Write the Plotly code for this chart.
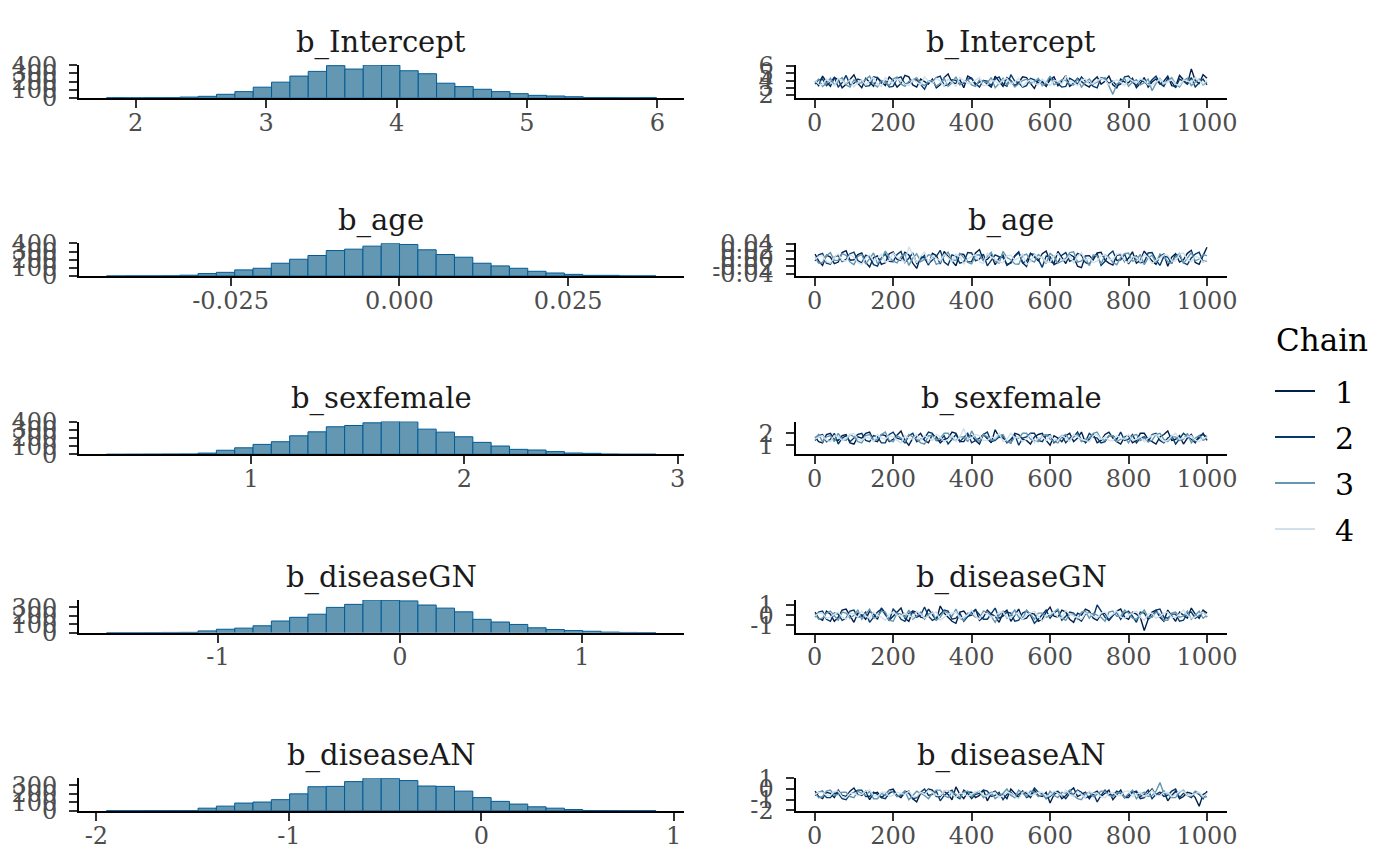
import plotly.graph_objects as go

W, H = 1400, 866

params = ["b_Intercept", "b_age", "b_sexfemale", "b_diseaseGN", "b_diseaseAN"]

# ---------------- histogram data (30 bins each) ----------------
hist_first_edge = [1.776, -0.04338, 0.3218, -1.613, -1.948]
hist_bin_width = [0.1406, 0.002713, 0.08588, 0.10067, 0.0952]

counts_intercept = [1, 0, 1, 2, 8, 17, 42, 75, 130, 192,
                    267, 325, 396, 354, 404, 400, 333, 296, 179, 137,
                    104, 75, 50, 29, 21, 12, 2, 1, 0, 1]
counts_age = [0, 1, 1, 2, 10, 30, 45, 75, 95, 157,
              206, 252, 313, 330, 367, 402, 388, 322, 264, 231,
              157, 124, 95, 58, 37, 20, 8, 8, 1, 1]
counts_sexfemale = [0, 1, 2, 3, 4, 15, 50, 80, 122, 155,
                    228, 277, 339, 355, 388, 403, 401, 310, 273, 216,
                    147, 102, 61, 53, 33, 16, 12, 3, 1, 1]
counts_diseaseGN = [0, 0, 1, 2, 3, 20, 40, 53, 81, 138,
                    182, 219, 300, 336, 389, 385, 377, 328, 291, 247,
                    158, 126, 97, 57, 36, 24, 16, 6, 2, 1]
counts_diseaseAN = [2, 2, 3, 3, 3, 32, 56, 92, 104, 132,
                    200, 284, 288, 344, 384, 380, 356, 292, 288, 232,
                    156, 112, 80, 48, 32, 16, 4, 3, 2, 2]
hist_counts = [counts_intercept, counts_age, counts_sexfemale,
               counts_diseaseGN, counts_diseaseAN]

# ---------------- trace data (thinned draws, every 10th iteration, 4 chains) ----------------
iterations = [1] + list(range(10, 1001, 10))

trace_intercept = [
    [3.9, 3.3, 4.6, 3.8, 3.2, 4.4, 4.1, 3.0, 3.5, 4.2,
     4.8, 3.6, 3.0, 4.3, 3.7, 3.2, 4.4, 3.8, 3.3, 4.5,
     4.0, 3.1, 3.6, 4.7, 4.5, 3.4, 3.1, 4.2, 3.9, 3.5,
     4.2, 3.0, 3.4, 4.4, 4.9, 3.7, 3.6, 4.1, 3.0, 4.6,
     4.3, 3.4, 3.8, 4.0, 3.5, 3.1, 4.6, 3.9, 3.2, 4.4,
     4.0, 3.3, 3.7, 4.5, 4.4, 3.6, 2.9, 4.1, 3.9, 3.2,
     4.1, 4.5, 3.3, 3.9, 4.7, 3.2, 3.6, 4.3, 3.8, 3.4,
     3.1, 4.0, 4.5, 3.5, 3.9, 4.6, 3.4, 3.0, 4.2, 3.8,
     3.7, 4.3, 3.0, 3.6, 4.4, 3.1, 3.8, 4.2, 3.5, 3.9,
     4.6, 3.3, 3.2, 4.7, 4.1, 3.5, 5.6, 4.0, 3.6, 4.8,
     4.3],
    [3.5, 4.1, 4.2, 3.3, 3.8, 4.4, 3.1, 3.7, 4.7, 3.4,
     3.6, 4.2, 4.0, 3.2, 3.3, 4.5, 4.4, 3.6, 3.9, 3.1,
     3.2, 4.3, 4.5, 3.5, 3.7, 4.0, 4.1, 3.4, 2.8, 3.9,
     3.8, 4.4, 4.6, 3.3, 3.4, 4.1, 4.0, 3.5, 3.6, 4.2,
     4.3, 3.6, 3.1, 4.0, 3.9, 3.3, 4.2, 4.5, 3.5, 3.2,
     4.8, 3.9, 3.7, 3.1, 3.3, 4.3, 4.1, 3.7, 3.8, 3.2,
     4.4, 4.0, 3.6, 3.1, 3.2, 4.3, 4.0, 3.5, 4.5, 3.9,
     3.7, 3.2, 3.0, 4.4, 4.2, 3.6, 3.9, 3.3, 3.5, 4.5,
     4.6, 3.8, 3.3, 4.1, 3.8, 3.4, 4.1, 4.6, 3.6, 3.2,
     4.3, 3.8, 3.0, 4.2, 3.9, 3.5, 4.4, 3.1, 3.7, 4.2,
     3.4],
    [3.7, 4.2, 3.2, 3.6, 4.3, 3.4, 3.9, 4.4, 3.4, 3.1,
     4.1, 3.6, 3.7, 4.2, 4.6, 3.5, 3.1, 4.0, 3.8, 3.3,
     4.2, 4.5, 3.5, 3.2, 3.9, 4.1, 4.4, 3.6, 3.3, 3.9,
     4.0, 3.2, 3.6, 4.3, 3.2, 3.7, 4.5, 3.4, 3.8, 4.1,
     3.4, 3.2, 4.1, 3.9, 3.7, 4.4, 3.0, 3.6, 4.3, 3.4,
     3.9, 3.1, 3.5, 4.0, 4.2, 3.6, 3.8, 4.3, 3.3, 3.7,
     4.6, 3.4, 3.7, 4.1, 4.0, 3.5, 3.4, 4.2, 3.1, 3.8,
     4.2, 3.5, 3.8, 4.2, 4.4, 3.3, 2.1, 3.5, 3.9, 4.3,
     3.2, 3.8, 4.1, 3.4, 3.7, 4.2, 2.6, 3.6, 4.3, 3.5,
     3.9, 4.4, 3.5, 3.1, 4.0, 4.3, 3.3, 3.7, 4.2, 3.4,
     3.8],
    [4.0, 3.5, 3.4, 4.2, 3.8, 3.3, 4.3, 3.9, 3.6, 4.1,
     3.1, 3.7, 4.1, 3.4, 3.9, 4.4, 3.5, 3.2, 4.4, 3.8,
     3.7, 4.2, 4.0, 3.5, 3.3, 4.1, 3.8, 3.4, 4.5, 3.9,
     3.6, 4.3, 3.9, 3.3, 4.2, 3.7, 3.2, 4.4, 4.0, 3.6,
     3.7, 4.1, 4.4, 3.3, 3.4, 4.0, 3.9, 3.5, 4.1, 4.3,
     3.5, 3.8, 4.3, 3.2, 3.8, 4.1, 3.6, 3.4, 4.2, 3.8,
     3.3, 4.0, 3.9, 3.5, 4.6, 3.9, 3.7, 3.3, 4.1, 4.2,
     3.5, 3.6, 3.9, 4.3, 4.0, 3.4, 3.8, 4.1, 3.8, 3.3,
     4.3, 3.9, 3.6, 4.2, 4.0, 3.4, 3.4, 3.8, 4.2, 3.6,
     3.8, 4.1, 3.5, 3.3, 4.1, 3.9, 3.7, 4.4, 3.9, 3.5,
     4.0],
]

trace_age = [
    [0.012, -0.006, -0.018, 0.009, 0.004, -0.013, -0.009, 0.016, 0.021, -0.004,
     -0.003, 0.011, 0.015, -0.010, -0.022, 0.003, 0.007, -0.015, -0.011, 0.013,
     0.018, -0.002, -0.005, 0.017, 0.010, -0.012, -0.026, 0.005, 0.002, -0.017,
     0.014, 0.008, -0.014, 0.019, 0.006, -0.007, -0.019, 0.012, 0.011, -0.009,
     -0.008, 0.015, 0.024, -0.004, -0.002, 0.010, -0.016, 0.001, 0.009, -0.018,
     -0.010, 0.006, 0.016, -0.011, -0.021, 0.014, 0.003, -0.006, 0.013, 0.020,
     -0.007, -0.013, 0.019, 0.004, -0.013, 0.011, 0.005, -0.020, -0.024, 0.007,
     0.008, -0.003, 0.015, 0.017, -0.004, -0.012, -0.017, 0.009, 0.011, -0.008,
     0.001, 0.018, -0.012, -0.005, 0.020, 0.006, -0.006, -0.015, 0.007, 0.012,
     -0.020, 0.004, 0.013, -0.009, -0.003, 0.014, 0.022, -0.010, -0.015, 0.008,
     0.030],
    [-0.006, 0.010, 0.014, -0.012, -0.015, 0.005, 0.008, -0.008, -0.002, 0.013,
     0.017, -0.005, -0.011, 0.009, 0.004, -0.016, -0.020, 0.002, 0.012, -0.007,
     -0.008, 0.011, 0.019, -0.010, 0.001, 0.015, -0.013, -0.003, 0.009, -0.014,
     -0.004, 0.006, 0.022, -0.009, -0.017, 0.010, 0.006, -0.012, -0.009, 0.016,
     0.015, -0.006, -0.001, 0.012, -0.019, -0.004, 0.010, 0.005, 0.003, -0.015,
     -0.012, 0.008, 0.018, -0.011, -0.006, 0.013, 0.011, -0.002, -0.023, 0.007,
     0.005, -0.016, -0.010, 0.009, 0.016, -0.007, -0.002, 0.014, 0.009, -0.010,
     -0.015, 0.004, 0.013, -0.018, -0.007, 0.011, 0.020, -0.005, -0.003, 0.012,
     -0.014, 0.002, 0.007, -0.011, -0.009, 0.015, 0.016, -0.004, -0.018, 0.006,
     0.004, -0.013, 0.011, 0.008, -0.011, -0.016, 0.002, 0.012, 0.017, -0.008,
     -0.005],
    [0.003, -0.012, -0.010, 0.008, 0.016, -0.005, -0.004, 0.013, 0.009, -0.009,
     -0.016, 0.006, 0.011, -0.014, 0.000, 0.015, -0.013, -0.002, 0.020, 0.004,
     -0.007, -0.011, 0.005, 0.012, -0.018, 0.001, 0.013, -0.008, -0.002, 0.010,
     0.008, -0.015, -0.011, 0.007, 0.017, -0.003, -0.005, 0.014, 0.002, -0.010,
     -0.014, 0.009, 0.010, -0.006, 0.006, 0.017, -0.008, -0.012, 0.019, 0.003,
     -0.003, -0.014, -0.015, 0.008, 0.012, -0.004, -0.009, 0.011, 0.004, -0.013,
     0.014, 0.005, -0.012, -0.007, 0.001, 0.016, 0.018, -0.009, -0.006, 0.003,
     -0.019, 0.010, 0.007, -0.014, 0.010, 0.004, -0.010, -0.016, 0.003, 0.013,
     0.015, -0.007, -0.004, 0.011, -0.016, 0.002, 0.009, -0.011, 0.012, 0.006,
     -0.008, -0.012, 0.005, 0.014, -0.013, 0.000, 0.016, -0.006, -0.001, 0.010,
     0.008],
    [-0.002, 0.006, 0.008, -0.008, -0.012, 0.004, 0.013, -0.005, -0.006, 0.010,
     0.004, -0.011, -0.015, 0.002, 0.010, -0.007, 0.002, 0.012, -0.009, -0.004,
     0.015, 0.003, -0.003, -0.010, 0.031, 0.009, -0.011, 0.006, 0.018, -0.012,
     0.007, 0.001, -0.006, 0.011, 0.003, -0.008, 0.012, 0.005, -0.014, -0.001,
     0.006, 0.010, -0.008, -0.013, 0.014, 0.004, -0.001, -0.009, -0.011, 0.008,
     0.009, -0.004, 0.001, 0.012, -0.016, -0.007, 0.011, 0.002, 0.005, -0.010,
     -0.009, 0.007, 0.013, -0.003, -0.004, 0.009, -0.012, 0.006, 0.016, -0.005,
     0.002, -0.011, -0.007, 0.008, 0.010, -0.002, -0.002, 0.011, 0.014, -0.006,
     -0.010, 0.005, 0.004, -0.008, 0.012, 0.003, -0.013, -0.004, 0.001, 0.010,
     0.009, -0.007, -0.006, 0.012, 0.015, -0.003, -0.008, 0.006, 0.003, -0.009,
     -0.004],
]

trace_sexfemale = [
    [1.7, 1.3, 1.2, 1.9, 2.0, 1.5, 1.4, 1.8, 1.9, 1.2,
     1.1, 1.7, 1.6, 2.0, 2.1, 1.4, 1.3, 1.9, 1.8, 1.3,
     1.5, 1.9, 2.2, 1.4, 1.0, 1.6, 1.7, 2.0, 1.4, 1.2,
     1.9, 1.7, 1.2, 1.5, 1.6, 2.1, 2.0, 1.3, 1.3, 1.8,
     1.8, 1.4, 1.1, 1.9, 1.5, 1.2, 2.3, 1.7, 1.6, 1.3,
     1.2, 2.0, 1.9, 1.5, 1.4, 1.1, 1.7, 1.9, 2.0, 1.4,
     1.0, 1.8, 1.6, 1.3, 1.8, 2.0, 1.3, 1.6, 2.1, 1.2,
     1.5, 1.9, 1.2, 1.4, 1.9, 2.1, 1.6, 1.3, 1.1, 1.7,
     1.8, 1.2, 1.4, 2.0, 2.0, 1.5, 1.3, 1.1, 1.7, 1.9,
     2.2, 1.4, 1.5, 1.8, 1.1, 1.6, 1.9, 1.3, 1.6, 2.0,
     1.4],
    [1.4, 1.8, 1.9, 1.3, 1.5, 2.0, 1.1, 1.6, 1.8, 1.3,
     1.6, 1.9, 2.0, 1.4, 1.3, 1.8, 1.7, 1.2, 1.2, 1.9,
     2.1, 1.6, 1.5, 1.2, 1.8, 2.0, 1.3, 1.5, 1.6, 2.1,
     2.0, 1.4, 1.4, 1.8, 1.1, 1.5, 1.9, 1.3, 1.7, 2.0,
     1.2, 1.4, 1.6, 1.9, 2.1, 1.3, 1.4, 1.7, 1.8, 1.2,
     1.5, 1.9, 1.0, 1.6, 1.7, 2.0, 2.0, 1.4, 1.3, 1.8,
     1.9, 1.2, 1.5, 1.8, 1.2, 1.6, 1.7, 2.1, 1.4, 1.3,
     2.0, 1.7, 1.6, 1.2, 1.3, 1.8, 1.8, 1.5, 2.1, 1.4,
     1.5, 1.9, 1.2, 1.6, 1.7, 1.3, 1.9, 2.0, 1.4, 1.2,
     1.6, 1.8, 1.1, 1.5, 2.0, 1.7, 1.5, 1.2, 1.8, 1.9,
     1.7],
    [1.6, 1.9, 1.3, 1.7, 1.8, 1.3, 2.0, 1.5, 1.4, 1.9,
     1.7, 1.3, 1.2, 1.8, 1.9, 1.4, 1.5, 1.9, 2.1, 1.4,
     1.3, 1.8, 1.6, 1.3, 1.9, 1.7, 1.5, 1.2, 1.1, 1.8,
     1.8, 1.4, 1.6, 2.0, 2.0, 1.5, 1.4, 1.7, 1.7, 1.3,
     2.2, 1.6, 1.3, 1.9, 1.7, 1.4, 1.5, 1.8, 1.9, 1.3,
     1.2, 1.7, 1.6, 2.0, 2.0, 1.5, 1.4, 1.3, 1.8, 1.9,
     1.5, 1.3, 1.2, 1.7, 1.9, 1.4, 1.7, 1.9, 1.3, 1.5,
     1.6, 2.0, 2.1, 1.5, 1.4, 1.8, 1.8, 1.3, 1.5, 1.7,
     1.2, 1.8, 1.9, 1.4, 1.6, 1.3, 1.4, 1.9, 2.0, 1.5,
     1.3, 1.7, 1.7, 1.4, 1.5, 2.0, 1.2, 1.6, 1.8, 1.4,
     1.6],
    [1.5, 1.7, 1.8, 1.4, 1.3, 1.8, 1.7, 1.4, 1.6, 1.9,
     2.0, 1.5, 1.4, 1.7, 1.6, 1.3, 1.9, 1.6, 1.5, 1.8,
     1.7, 1.4, 1.2, 1.8, 1.6, 1.5, 1.9, 1.4, 1.8, 1.6,
     1.4, 1.9, 1.7, 1.3, 1.5, 1.8, 1.3, 1.7, 2.4, 1.5,
     1.6, 1.9, 1.8, 1.4, 1.4, 1.7, 1.6, 2.0, 1.3, 1.5,
     2.0, 1.6, 1.7, 1.3, 1.5, 1.9, 1.2, 1.6, 1.7, 1.4,
     1.8, 1.5, 1.4, 1.8, 1.6, 1.3, 1.9, 1.7, 1.5, 1.4,
     1.3, 1.8, 1.9, 1.5, 1.7, 1.4, 1.4, 1.8, 1.6, 1.5,
     1.9, 1.4, 1.5, 1.7, 1.3, 1.6, 1.8, 1.9, 1.6, 1.3,
     1.4, 1.8, 2.0, 1.5, 1.6, 1.7, 1.8, 1.4, 1.3, 1.6,
     1.7],
]

trace_diseaseGN = [
    [0.3, -0.3, -0.5, 0.4, 0.1, -0.6, -0.2, 0.5, 0.6, -0.1,
     -0.7, 0.2, 0.0, -0.4, 0.4, 0.1, -0.4, 0.7, 0.2, -0.5,
     -0.1, 0.3, 0.7, -0.3, -0.6, 0.4, 0.3, -0.2, -0.3, 0.6,
     0.1, -0.5, 0.9, 0.2, -0.2, -0.6, -0.8, 0.3, 0.4, -0.1,
     0.0, 0.6, -0.5, -0.2, 0.5, 0.1, -0.1, -0.7, 0.2, 0.5,
     -0.6, 0.0, 0.6, -0.4, -0.3, 0.2, 0.1, -0.6, -0.4, 0.3,
     0.8, -0.1, -0.2, 0.5, 0.3, -0.4, -0.7, 0.2, 0.0, 0.6,
     0.4, -0.3, -0.5, 0.1, 0.2, -0.5, -0.1, 0.4, 0.6, -0.2,
     -0.4, 0.3, 0.1, -0.2, -1.5, -0.4, 0.3, 0.5, -0.2, -0.6,
     0.5, 0.0, -0.6, 0.3, 0.0, -0.3, 0.7, 0.1, -0.3, 0.5,
     0.2],
    [-0.2, 0.3, 0.4, -0.4, -0.6, 0.2, 0.1, -0.5, -0.3, 0.4,
     0.5, -0.2, -0.1, 0.3, -0.7, -0.2, 0.3, 0.6, 0.0, -0.5,
     0.6, 0.2, -0.4, -0.6, 0.2, 0.4, -0.2, 0.0, 0.8, -0.1,
     -0.5, -0.3, 0.1, 0.5, 0.4, -0.4, -0.3, 0.2, -0.6, -0.1,
     0.3, 0.5, 0.0, -0.4, -0.4, 0.1, 0.7, -0.3, -0.1, 0.3,
     0.2, -0.6, -0.5, 0.2, 0.4, 0.0, -0.8, -0.4, 0.1, 0.5,
     -0.3, 0.2, 0.5, -0.5, -0.1, 0.3, 0.2, -0.3, -0.6, 0.1,
     0.3, -0.2, 1.0, 0.4, -0.2, -0.5, 0.0, 0.3, -0.4, 0.2,
     0.4, -0.1, -0.7, 0.3, 0.2, -0.4, -0.1, 0.5, 0.6, -0.2,
     -0.3, 0.1, 0.1, -0.6, -0.5, 0.2, 0.3, -0.3, 0.0, 0.4,
     -0.2],
    [0.1, -0.4, -0.3, 0.2, 0.4, -0.1, -0.5, 0.3, 0.2, -0.3,
     0.0, 0.5, -0.4, 0.1, 0.6, -0.3, -0.2, 0.4, 0.3, -0.5,
     -0.6, 0.2, 0.1, -0.2, 0.5, -0.4, -0.1, 0.3, -0.4, 0.1,
     0.3, -0.5, -0.2, 0.4, 0.2, -0.1, 0.6, -0.3, -0.5, 0.2,
     0.1, -0.2, -0.3, 0.4, 0.3, -0.1, -0.7, 0.0, 0.4, -0.3,
     0.0, 0.5, -0.2, -0.4, 0.5, 0.1, -0.4, 0.2, 0.2, -0.2,
     -0.1, 0.3, 0.6, -0.3, -0.5, 0.1, 0.1, -0.4, 0.3, 0.4,
     -0.3, 0.2, 0.0, -0.2, -0.6, 0.3, 0.4, -0.1, -0.1, 0.5,
     0.2, -0.3, -0.4, 0.1, 0.5, -0.2, -0.2, 0.3, 0.1, -0.5,
     -0.5, 0.2, 0.3, -0.2, -0.1, 0.4, -0.4, 0.0, 0.4, -0.3,
     0.0],
    [-0.1, 0.2, 0.2, -0.3, -0.2, 0.1, 0.3, -0.2, -0.4, 0.2,
     0.1, -0.2, 0.4, -0.1, -0.3, 0.3, 0.0, -0.2, -0.5, 0.1,
     0.3, 0.0, -0.1, 0.2, 0.0, -0.3, 0.4, 0.1, -0.3, -0.1,
     0.2, 0.3, -0.5, -0.2, 0.1, 0.2, 0.3, -0.3, -0.2, 0.0,
     0.5, -0.1, -0.4, 0.2, 0.1, -0.2, -0.1, 0.3, 0.3, -0.2,
     -0.3, 0.1, 0.2, -0.4, 0.0, 0.2, 0.4, -0.1, -0.6, 0.0,
     0.1, 0.3, -0.2, -0.3, 0.5, 0.1, -0.1, -0.2, -0.4, 0.2,
     0.2, -0.1, -0.3, 0.2, 0.3, -0.2, 0.1, 0.4, -0.2, -0.3,
     0.0, 0.2, 0.4, -0.2, -0.5, 0.1, 0.2, -0.3, -0.1, 0.2,
     0.3, -0.2, -0.2, 0.1, 0.5, 0.0, -0.3, -0.2, 0.1, 0.3,
     -0.1],
]

trace_diseaseAN = [
    [-0.2, -0.7, -0.9, -0.3, -0.4, -0.8, -0.1, -0.6, -0.7, -0.2,
     0.1, -0.5, -0.6, -0.2, -1.0, -0.4, -0.3, -0.8, -0.5, -0.1,
     0.0, -0.6, -0.8, -0.3, -0.2, -0.9, -1.2, -0.4, -0.4, 0.0,
     -0.1, -0.7, -0.7, -0.2, -0.5, -1.0, 0.2, -0.5, -0.9, -0.3,
     -0.3, -0.8, -0.6, -0.1, -1.1, -0.4, -0.2, -0.6, -0.5, -0.9,
     0.0, -0.4, -0.8, -0.2, -0.4, -0.8, -0.1, -0.6, -0.7, -0.3,
     -1.3, -0.5, -0.3, -0.9, -0.6, -0.2, 0.1, -0.7, -0.5, -0.3,
     -0.9, -0.4, -0.2, -0.7, -0.4, -0.1, -1.0, -0.5, -0.1, -0.8,
     -0.6, -0.2, -0.3, -0.9, -0.8, -0.4, 0.0, -0.6, -0.5, -0.2,
     -1.1, -0.6, -0.2, -0.9, -0.7, -0.3, -0.4, -0.8, -1.6, -0.5,
     -0.3],
    [-0.6, -0.3, -0.2, -0.8, -0.8, -0.4, -0.4, -0.9, -1.0, -0.5,
     -0.3, -0.1, -0.1, -0.7, -0.7, -0.3, -0.5, -0.8, -0.9, -0.4,
     -0.2, -0.7, -0.6, -0.2, -0.4, -0.9, -0.8, -0.3, 0.0, -0.6,
     -0.5, -0.2, -1.1, -0.6, -0.3, -0.1, -0.7, -0.9, -0.1, -0.4,
     -0.9, -0.5, -0.4, -0.1, -0.2, -0.7, -0.6, -0.3, -1.0, -0.5,
     -0.3, -0.8, -0.5, -0.2, -0.8, -0.6, 0.1, -0.3, -0.4, -0.9,
     -0.7, -0.3, -0.2, -0.6, -0.9, -0.4, -0.5, -0.1, -0.3, -0.8,
     -0.7, -0.4, -1.2, -0.6, -0.1, -0.5, -0.6, -0.2, -0.4, -0.8,
     -0.8, -0.3, -0.2, -0.7, -0.5, -0.1, -0.9, -0.5, -0.3, -0.7,
     -0.6, -0.2, 0.0, -0.8, -0.4, -0.6, -0.8, -0.3, -0.5, -0.9,
     -0.2],
    [-0.4, -0.8, -0.7, -0.2, -0.1, -0.6, -0.5, -0.3, -0.3, -0.7,
     -0.8, -0.2, -0.4, -0.6, -0.2, -0.9, -0.9, -0.4, -0.6, -0.1,
     -0.3, -0.7, -0.5, -0.2, -1.0, -0.6, -0.2, -0.4, -0.6, -0.9,
     -0.4, -0.1, -0.1, -0.6, -0.8, -0.3, -0.5, -0.8, -0.3, -0.2,
     -0.7, -0.4, -0.2, -0.8, -0.5, -0.3, -0.9, -0.6, -0.4, 0.0,
     -0.6, -0.8, -0.1, -0.4, -0.7, -0.2, -0.3, -0.7, -0.5, -0.9,
     -0.2, -0.6, -0.8, -0.3, -0.4, -0.1, -0.6, -0.9, -1.0, -0.4,
     -0.3, -0.7, -0.5, -0.2, -0.2, -0.6, -0.7, -0.4, -0.3, -0.8,
     -0.4, -0.1, -0.9, -0.5, -0.3, -0.7, -0.6, -0.2, 0.6, -0.4,
     -0.5, -0.8, -0.8, -0.3, -0.1, -0.6, -0.6, -0.2, -0.4, -0.8,
     -0.7],
    [-0.5, -0.3, -0.3, -0.6, -0.6, -0.2, -0.2, -0.7, -0.8, -0.4,
     -0.4, -0.6, -0.5, -0.2, -0.1, -0.6, -0.7, -0.3, -0.3, -0.7,
     -0.6, -0.3, -0.4, -0.5, -0.2, -0.7, -0.7, -0.3, -0.5, -0.1,
     -0.3, -0.6, -0.6, -0.2, -0.1, -0.5, -0.8, -0.4, -0.4, -0.7,
     -0.5, -0.2, -0.2, -0.6, -0.7, -0.4, -0.3, -0.8, -0.6, -0.3,
     -0.4, -0.7, -0.9, -0.3, -0.2, -0.6, -0.5, -0.3, -0.3, -0.7,
     -0.6, -0.2, -0.4, -0.6, -0.1, -0.5, -0.7, -0.2, -0.5, -0.8,
     -0.2, -0.4, -0.4, -0.7, -0.8, -0.4, -0.3, -0.6, -0.6, -0.2,
     -0.2, -0.7, -0.5, -0.3, -0.7, -0.5, -0.1, -0.6, -0.6, -0.3,
     -0.3, -0.7, -0.5, -0.2, -0.2, -0.6, -0.6, -0.4, -0.3, -0.7,
     -0.4],
]
traces = [trace_intercept, trace_age, trace_sexfemale, trace_diseaseGN, trace_diseaseAN]

# ---------------- axis ticks / ranges ----------------
hist_x_range = [[1.565, 6.2], [-0.04745, 0.04209], [0.193, 3.027], [-1.764, 1.558], [-2.0907, 1.051]]
hist_x_ticks = [[2, 3, 4, 5, 6], [-0.025, 0.0, 0.025], [1, 2, 3], [-1, 0, 1], [-2, -1, 0, 1]]
hist_x_ticktext = [["2", "3", "4", "5", "6"], ["-0.025", "0.000", "0.025"], ["1", "2", "3"],
                   ["-1", "0", "1"], ["-2", "-1", "0", "1"]]
hist_y_ticks = [[0, 100, 200, 300, 400], [0, 100, 200, 300, 400], [0, 100, 200, 300, 400],
                [0, 100, 200, 300], [0, 100, 200, 300]]

trace_y_range = [[1.64, 6.13], [-0.046, 0.0406], [0.24, 2.98], [-1.71, 1.50], [-2.04, 1.01]]
trace_y_ticks = [[2, 3, 4, 5, 6], [-0.04, -0.02, 0.0, 0.02, 0.04], [1, 2], [-1, 0, 1], [-2, -1, 0, 1]]
trace_y_ticktext = [["2", "3", "4", "5", "6"], ["-0.04", "-0.02", "0.00", "0.02", "0.04"], ["1", "2"],
                    ["-1", "0", "1"], ["-2", "-1", "0", "1"]]
trace_x_ticks = [0, 200, 400, 600, 800, 1000]

chain_names = ["1", "2", "3", "4"]
chain_colors = ["#011f4b", "#03396c", "#6497b1", "#d1e1ec"]

# ---------------- layout geometry (pixels) ----------------
FONT = "DejaVu Serif"
TICK_SIZE = 24
TITLE_SIZE = 29
left_dom = [79 / W, 683.5 / W]
right_dom = [795.5 / W, 1226.6 / W]
row_bottom = [97.7 + 178.3 * i for i in range(5)]
panel_h = 32.7


def py(px):
    return 1 - px / H


def standoff_ok(v):
    try:
        go.layout.XAxis(ticklabelstandoff=v)
        return v
    except Exception:
        return 0


X_STANDOFF = standoff_ok(-6)
Y_STANDOFF = standoff_ok(7)

fig = go.Figure()
layout = dict(
    width=W, height=H, margin=dict(l=0, r=0, t=0, b=0, autoexpand=False),
    paper_bgcolor="white", plot_bgcolor="white",
    font=dict(family=FONT, color="#4d4d4d", size=TICK_SIZE),
    showlegend=True,
    legend=dict(
        x=1270 / W, y=py(365), xanchor="left", yanchor="top",
        font=dict(size=30, color="#000000", family=FONT),
        tracegroupgap=4, itemwidth=40, bgcolor="rgba(0,0,0,0)",
    ),
    annotations=[dict(text="Chain", x=1274 / W, y=py(340), xref="paper", yref="paper",
                      xanchor="left", yanchor="middle", showarrow=False,
                      font=dict(family=FONT, size=31, color="#000000"))],
)

axis_common = dict(showgrid=False, zeroline=False, showline=True, linecolor="#000000",
                   linewidth=2, ticks="outside", ticklen=8, tickwidth=1.5, tickcolor="#333333",
                   tickfont=dict(family=FONT, size=TICK_SIZE, color="#4d4d4d"),
                   fixedrange=True, automargin=False)

for i, name in enumerate(params):
    dom_y = [py(row_bottom[i]), py(row_bottom[i] - panel_h)]
    hx, tx = 2 * i + 1, 2 * i + 2

    # histogram
    edge0, bw = hist_first_edge[i], hist_bin_width[i]
    centers = [edge0 + bw * (k + 0.5) for k in range(len(hist_counts[i]))]
    fig.add_trace(go.Bar(
        x=centers, y=hist_counts[i], width=bw,
        marker=dict(color="#6497b1", line=dict(color="#005b96", width=1)),
        xaxis=f"x{hx}", yaxis=f"y{hx}", showlegend=False, hoverinfo="skip"))

    layout[f"xaxis{hx}"] = dict(axis_common, domain=left_dom, anchor=f"y{hx}",
                                range=hist_x_range[i], tickvals=hist_x_ticks[i],
                                ticktext=hist_x_ticktext[i], ticklabelstandoff=X_STANDOFF)
    layout[f"yaxis{hx}"] = dict(axis_common, domain=dom_y, anchor=f"x{hx}",
                                range=[0, max(hist_counts[i])], tickvals=hist_y_ticks[i],
                                ticktext=[str(v) for v in hist_y_ticks[i]],
                                ticklabelstandoff=Y_STANDOFF)

    # traces
    for c in range(4):
        vals = traces[i][c]
        fig.add_trace(go.Scatter(
            x=iterations[:len(vals)], y=vals, mode="lines",
            line=dict(color=chain_colors[c], width=1.4),
            name=chain_names[c], legendgroup=chain_names[c], showlegend=False,
            xaxis=f"x{tx}", yaxis=f"y{tx}", hoverinfo="skip"))

    layout[f"xaxis{tx}"] = dict(axis_common, domain=right_dom, anchor=f"y{tx}",
                                range=[-48.95, 1049.95], tickvals=trace_x_ticks,
                                ticktext=[str(v) for v in trace_x_ticks],
                                ticklabelstandoff=X_STANDOFF)
    layout[f"yaxis{tx}"] = dict(axis_common, domain=dom_y, anchor=f"x{tx}",
                                range=trace_y_range[i], tickvals=trace_y_ticks[i],
                                ticktext=trace_y_ticktext[i], ticklabelstandoff=Y_STANDOFF)

    # panel titles
    for dom in (left_dom, right_dom):
        layout["annotations"].append(dict(
            text=name, x=(dom[0] + dom[1]) / 2, y=py(row_bottom[i] - 55.5),
            xref="paper", yref="paper", xanchor="center", yanchor="middle",
            showarrow=False, font=dict(family=FONT, size=TITLE_SIZE, color="#1a1a1a")))

# legend keys (one per chain)
for c in range(4):
    fig.add_trace(go.Scatter(
        x=[None], y=[None], mode="lines", line=dict(color=chain_colors[c], width=2),
        name="\u2002" + chain_names[c], legendgroup=chain_names[c], showlegend=True,
        xaxis="x2", yaxis="y2", hoverinfo="skip"))

fig.update_layout(**layout)
fig.write_html("out.html", config={"displayModeBar": False},
               post_script="document.body.style.margin='0';")
